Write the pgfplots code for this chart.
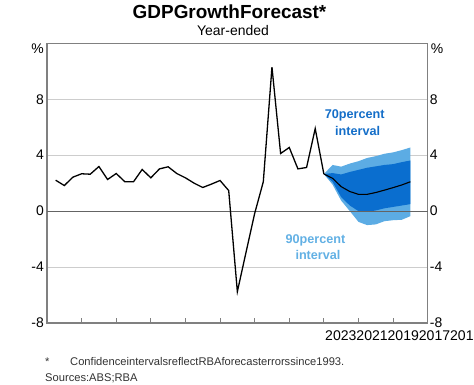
\documentclass[border=0pt]{standalone}
\usepackage{fontspec}
\setmainfont{Liberation Sans}
\usepackage{pgfplots}
\pgfplotsset{compat=1.18}
\usepackage{pgfplotstable}
\usepgfplotslibrary{fillbetween}

\definecolor{framegray}{RGB}{128,128,128}
\definecolor{gridgray}{RGB}{205,205,205}
\definecolor{zerogray}{RGB}{100,100,100}
\definecolor{darkband}{RGB}{10,110,207}
\definecolor{lightband}{RGB}{92,172,228}
\definecolor{darktext}{RGB}{20,110,200}
\definecolor{lighttext}{RGB}{98,176,228}
\definecolor{notegray}{RGB}{50,50,50}

\pgfplotstableread{
x y
2015.25 2.21
2015.50 1.83
2015.75 2.43
2016.00 2.67
2016.25 2.64
2016.50 3.19
2016.75 2.26
2017.00 2.69
2017.25 2.10
2017.50 2.10
2017.75 2.98
2018.00 2.38
2018.25 3.02
2018.50 3.17
2018.75 2.69
2019.00 2.38
2019.25 2.00
2019.50 1.69
2019.75 1.93
2020.00 2.19
2020.25 1.47
2020.50 -5.76
2020.75 -2.95
2021.00 -0.17
2021.25 2.10
2021.50 10.30
2021.75 4.12
2022.00 4.55
2022.25 3.02
2022.50 3.12
2022.75 5.90
2023.00 2.65
}\actual

\pgfplotstableread{
x med up90 up70 lo70 lo90
2023.00 2.65 2.65 2.65 2.65 2.65
2023.25 2.35 3.30 2.72 2.10 1.90
2023.50 1.75 3.18 2.62 1.00 0.75
2023.75 1.40 3.40 2.80 0.40 0.00
2024.00 1.20 3.57 2.95 0.00 -0.77
2024.25 1.20 3.80 3.10 -0.05 -1.00
2024.50 1.33 3.93 3.20 0.05 -0.95
2024.75 1.50 4.10 3.30 0.20 -0.72
2025.00 1.68 4.20 3.36 0.30 -0.65
2025.25 1.87 4.36 3.50 0.40 -0.62
2025.50 2.10 4.55 3.62 0.50 -0.36
}\fc

\begin{document}
\begin{tikzpicture}
\begin{axis}[
  at={(0,0)}, anchor=south west,
  scale only axis, width=380.7bp, height=279.7bp,
  xmin=2015, xmax=2026, ymin=-8, ymax=12,
  xtick={2016,...,2025}, xticklabels={},
  xtick pos=lower, tick align=inside,
  major tick length=5bp,
  x tick style={draw=framegray, line width=1bp},
  ytick={-8,-4,0,4,8,12}, yticklabels={-8,-4,0,4,8,},
  y tick style={draw=none},
  ymajorgrids,
  grid style={draw=gridgray, line width=1bp},
  axis line style={draw=framegray, line width=1.2bp},
  yticklabel style={font=\fontsize{14}{16}\selectfont, inner xsep=3bp},
  clip=false,
]
\draw[zerogray, line width=1bp] (axis cs:2015,0) -- (axis cs:2026,0);
\addplot[draw=none, name path=u90] table[x=x,y=up90]{\fc};
\addplot[draw=none, name path=l90] table[x=x,y=lo90]{\fc};
\addplot[draw=none, name path=u70] table[x=x,y=up70]{\fc};
\addplot[draw=none, name path=l70] table[x=x,y=lo70]{\fc};
\addplot[lightband] fill between[of=u90 and l90];
\addplot[darkband] fill between[of=u70 and l70];
\addplot[black, line width=1.1bp] table[x=x,y=med]{\fc};
\addplot[black, line width=1.3bp] table[x=x,y=y]{\actual};
\node[anchor=north east, inner sep=0pt, font=\fontsize{14}{16}\selectfont] at ([xshift=-3bp]rel axis cs:0,1) {\%};
\node[anchor=north west, inner sep=0pt, font=\fontsize{14}{16}\selectfont] at ([xshift=3bp]rel axis cs:1,1) {\%};
\end{axis}
\begin{axis}[
  at={(0,0)}, anchor=south west,
  scale only axis, width=380.7bp, height=279.7bp,
  xmin=2015, xmax=2026, ymin=-8, ymax=12,
  hide x axis,
  axis y line*=right,
  axis line style={draw=none},
  ytick={-8,-4,0,4,8}, yticklabels={-8,-4,0,4,8},
  y tick style={draw=none},
  yticklabel style={font=\fontsize{14}{16}\selectfont, inner xsep=2bp},
]
\addplot[draw=none] coordinates {(2015,0)};
\end{axis}
% titles
\node[anchor=base, font=\fontsize{19}{22}\selectfont\bfseries] at (182.5bp,304.7bp) {GDPGrowthForecast*};
\node[anchor=base, font=\fontsize{14}{16}\selectfont] at (186bp,287.3bp) {Year-ended};
% annotations
\node[anchor=base, text=darktext, font=\fontsize{12.7}{15}\selectfont\bfseries] at (307.7bp,204.7bp) {70percent};
\node[anchor=base, text=darktext, font=\fontsize{12.7}{15}\selectfont\bfseries] at (310.7bp,187.5bp) {interval};
\node[anchor=base, text=lighttext, font=\fontsize{12.7}{15}\selectfont\bfseries] at (268.5bp,79.7bp) {90percent};
\node[anchor=base, text=lighttext, font=\fontsize{12.7}{15}\selectfont\bfseries] at (271bp,63bp) {interval};
% year labels
\node[anchor=base west, inner sep=0pt, font=\fontsize{14.1}{16}\selectfont] at (278bp,-17bp) {2023202120192017201};
% notes
\node[anchor=base west, inner sep=0pt, text=notegray, font=\fontsize{11.2}{13}\selectfont] at (-2bp,-42bp) {*};
\node[anchor=base west, inner sep=0pt, text=notegray, font=\fontsize{11.2}{13}\selectfont] at (23bp,-42bp) {ConfidenceintervalsreflectRBAforecasterrorssince1993.};
\node[anchor=base west, inner sep=0pt, text=notegray, font=\fontsize{11.2}{13}\selectfont] at (-2bp,-58bp) {Sources:ABS;RBA};
\pgfresetboundingbox
\path[use as bounding box] (-47bp,-62bp) rectangle (427bp,323bp);
\end{tikzpicture}
\end{document}
